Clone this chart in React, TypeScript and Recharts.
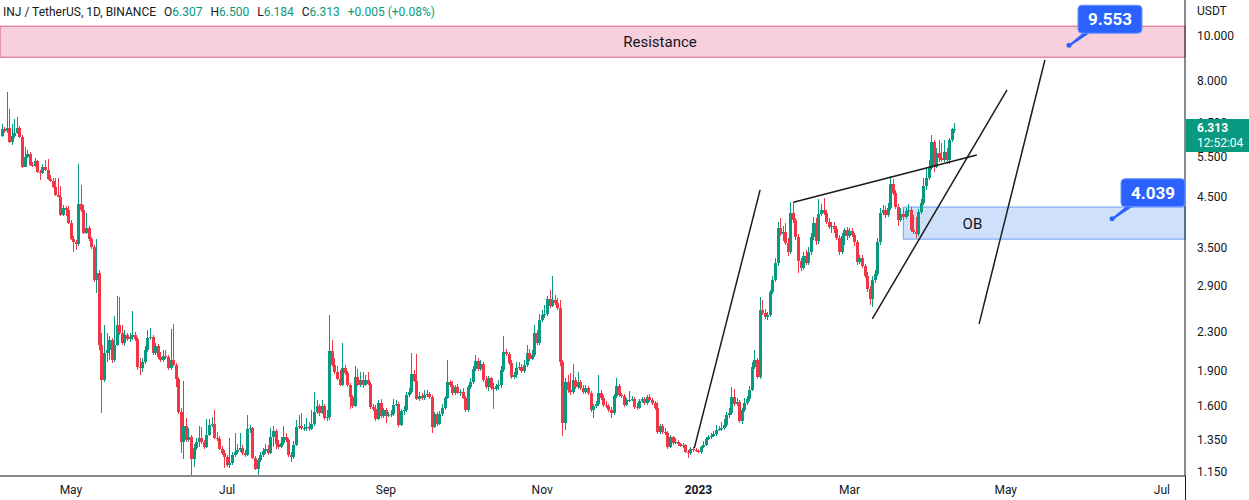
import {
  Bar,
  ComposedChart,
  ReferenceArea,
  ReferenceDot,
  ReferenceLine,
  XAxis,
  YAxis,
} from "recharts";

// Daily INJ/USDT candles, 2022-04-04 .. 2023-04-11. Day numbers count from 2023-01-01.
const FIRST_DAY = -272;
const FIRST_OPEN = 6.09;

// prettier-ignore
const CLOSE = [
  6.30, 6.24, 6.34, 5.91, 6.09, 6.18, 6.34, 6.06, 5.22, 5.49,
  5.57, 5.27, 5.25, 5.38, 5.09, 5.07, 5.22, 5.15, 4.92, 4.87,
  4.73, 4.54, 4.50, 4.12, 4.26, 4.22, 3.96, 3.65, 3.60, 3.56,
  4.35, 4.22, 3.76, 3.86, 3.65, 3.51, 2.98, 3.09, 2.16, 1.815,
  2.075, 2.107, 2.214, 2.005, 2.159, 2.385, 2.292, 2.181, 2.269, 2.225,
  2.247, 2.269, 2.225, 1.937, 1.927, 1.985, 2.107, 2.236, 2.247, 2.075,
  2.148, 2.035, 2.005, 2.045, 2.035, 1.927, 2.005, 1.956, 1.824, 1.549,
  1.335, 1.445, 1.348, 1.368, 1.227, 1.296, 1.335, 1.361, 1.335, 1.302,
  1.382, 1.452, 1.459, 1.361, 1.355, 1.289, 1.264, 1.240, 1.191, 1.203,
  1.252, 1.270, 1.283, 1.296, 1.264, 1.252, 1.424, 1.431, 1.233, 1.168,
  1.221, 1.252, 1.277, 1.289, 1.264, 1.368, 1.410, 1.322, 1.302, 1.328,
  1.368, 1.348, 1.252, 1.240, 1.315, 1.438, 1.445, 1.431, 1.431, 1.438,
  1.424, 1.459, 1.549, 1.596, 1.541, 1.596, 1.504, 1.511, 2.096, 1.956,
  1.889, 1.824, 1.771, 1.927, 1.880, 1.771, 1.668, 1.596, 1.843, 1.771,
  1.815, 1.771, 1.815, 1.780, 1.588, 1.572, 1.496, 1.620, 1.518, 1.564,
  1.518, 1.526, 1.534, 1.604, 1.612, 1.452, 1.556, 1.564, 1.685, 1.711,
  1.870, 1.806, 1.652, 1.677, 1.660, 1.685, 1.694, 1.668, 1.438, 1.534,
  1.459, 1.534, 1.580, 1.660, 1.797, 1.771, 1.702, 1.753, 1.702, 1.711,
  1.660, 1.564, 1.753, 1.797, 1.917, 1.995, 1.917, 1.966, 1.815, 1.753,
  1.833, 1.745, 1.736, 1.762, 1.771, 1.908, 2.086, 2.065, 1.976, 1.843,
  1.861, 1.927, 1.937, 1.899, 1.956, 2.075, 2.015, 2.055, 2.292, 2.181,
  2.445, 2.506, 2.518, 2.713, 2.620, 2.700, 2.660, 2.595, 1.985, 1.467,
  1.797, 1.728, 1.711, 1.815, 1.753, 1.797, 1.745, 1.711, 1.745, 1.702,
  1.564, 1.596, 1.612, 1.702, 1.660, 1.604, 1.596, 1.564, 1.541, 1.677,
  1.762, 1.685, 1.677, 1.604, 1.644, 1.644, 1.652, 1.588, 1.580, 1.636,
  1.652, 1.620, 1.668, 1.644, 1.620, 1.580, 1.403, 1.445, 1.403, 1.396,
  1.302, 1.368, 1.328, 1.335, 1.322, 1.309, 1.315, 1.270, 1.264, 1.289,
  1.283, 1.277, 1.270, 1.302, 1.315, 1.355, 1.368, 1.375, 1.389, 1.417,
  1.424, 1.431, 1.452, 1.526, 1.541, 1.668, 1.612, 1.628, 1.482, 1.564,
  1.620, 1.652, 1.728, 1.937, 2.005, 1.843, 2.569, 2.531, 2.481, 2.506,
  2.809, 2.981, 3.243, 3.858, 3.745, 3.782, 3.582, 3.425, 4.156, 4.015,
  3.690, 3.276, 3.164, 3.358, 3.243, 3.425, 3.690, 3.955, 3.617, 4.136,
  4.219, 4.156, 3.975, 3.877, 3.896, 3.839, 3.672, 3.425, 3.709, 3.820,
  3.709, 3.801, 3.727, 3.599, 3.259, 3.325, 3.195, 3.041, 2.851, 2.713,
  2.981, 3.071, 3.599, 4.156, 4.219, 4.115, 4.261, 4.800, 4.589, 4.282,
  4.015, 4.136, 4.074, 4.198, 4.219, 3.820, 3.782, 3.745, 4.177, 4.368,
  4.752, 4.944, 5.196, 5.911, 5.222, 5.598, 5.460, 5.406, 5.625, 5.406,
  5.970, 6.307, 6.313,
];

// prettier-ignore
const HIGH = [
  6.463, 6.367, 7.574, 6.962, 6.463, 6.625, 6.691, 6.399, 6.120, 5.767,
  5.681, 5.625, 5.353, 5.460, 5.406, 5.145, 5.300, 5.406, 5.433, 5.019,
  4.944, 4.944, 4.944, 4.752, 4.325, 4.303, 4.303, 4.015, 3.709, 3.635,
  5.300, 4.776, 4.325, 4.156, 3.896, 3.690, 3.546, 3.653, 3.133, 2.292,
  2.385, 2.292, 2.258, 2.236, 2.494, 2.754, 2.740, 2.385, 2.326, 2.292,
  2.292, 2.556, 2.303, 2.247, 2.025, 2.025, 2.148, 2.326, 2.349, 2.269,
  2.181, 2.170, 2.086, 2.107, 2.107, 2.055, 2.338, 2.397, 1.976, 1.843,
  1.580, 1.806, 1.504, 1.431, 1.382, 1.322, 1.361, 1.445, 1.438, 1.348,
  1.496, 1.496, 1.511, 1.564, 1.403, 1.375, 1.309, 1.283, 1.252, 1.361,
  1.270, 1.396, 1.322, 1.396, 1.315, 1.283, 1.526, 1.452, 1.438, 1.246,
  1.233, 1.270, 1.296, 1.322, 1.315, 1.431, 1.445, 1.424, 1.348, 1.368,
  1.445, 1.396, 1.361, 1.270, 1.341, 1.489, 1.526, 1.541, 1.459, 1.504,
  1.474, 1.564, 1.711, 1.644, 1.612, 1.644, 1.612, 1.564, 2.506, 2.214,
  2.025, 1.946, 1.908, 2.181, 1.956, 1.899, 1.789, 1.685, 1.946, 1.917,
  1.889, 1.889, 1.861, 1.889, 1.797, 1.612, 1.604, 1.644, 1.652, 1.580,
  1.580, 1.549, 1.564, 1.652, 1.644, 1.628, 1.572, 1.596, 1.711, 1.745,
  2.075, 1.908, 2.065, 1.711, 1.702, 1.728, 1.728, 1.711, 1.685, 1.549,
  1.549, 1.556, 1.612, 1.677, 2.005, 1.815, 1.806, 1.771, 1.780, 1.736,
  1.745, 1.677, 1.771, 1.833, 1.946, 2.055, 2.025, 2.005, 1.985, 1.852,
  1.852, 1.843, 1.789, 1.780, 1.815, 1.946, 2.258, 2.117, 2.086, 2.005,
  1.889, 1.985, 1.985, 1.966, 2.005, 2.159, 2.117, 2.107, 2.385, 2.326,
  2.518, 2.569, 2.633, 2.754, 2.837, 3.041, 2.767, 2.727, 2.700, 2.005,
  1.833, 1.861, 1.880, 1.966, 1.843, 1.889, 1.815, 1.771, 1.771, 1.762,
  1.719, 1.612, 1.636, 1.861, 1.728, 1.685, 1.636, 1.612, 1.588, 1.694,
  1.833, 1.780, 1.702, 1.694, 1.660, 1.719, 1.677, 1.668, 1.620, 1.652,
  1.668, 1.668, 1.685, 1.694, 1.660, 1.636, 1.628, 1.459, 1.459, 1.431,
  1.410, 1.382, 1.375, 1.361, 1.348, 1.328, 1.328, 1.322, 1.283, 1.302,
  1.302, 1.296, 1.289, 1.309, 1.341, 1.368, 1.382, 1.396, 1.410, 1.452,
  1.445, 1.474, 1.496, 1.549, 1.580, 1.753, 1.736, 1.660, 1.644, 1.580,
  1.660, 1.677, 1.762, 1.985, 2.107, 2.025, 2.740, 2.700, 2.582, 2.544,
  2.837, 3.041, 3.325, 3.975, 4.055, 3.896, 3.955, 3.672, 4.389, 4.389,
  4.055, 3.745, 3.325, 3.425, 3.459, 3.511, 3.764, 4.074, 4.055, 4.455,
  4.346, 4.477, 4.219, 4.055, 3.975, 3.975, 3.896, 3.727, 3.764, 3.858,
  3.877, 3.858, 3.858, 3.764, 3.635, 3.375, 3.375, 3.227, 3.102, 2.894,
  3.041, 3.133, 3.672, 4.261, 4.325, 4.303, 4.368, 4.994, 4.919, 4.659,
  4.346, 4.261, 4.240, 4.261, 4.346, 4.282, 4.115, 4.074, 4.240, 4.455,
  4.944, 5.196, 5.406, 6.120, 5.970, 5.739, 5.970, 5.882, 5.970, 5.739,
  6.030, 6.335, 6.500,
];

// prettier-ignore
const LOW = [
  6.060, 6.181, 6.181, 5.882, 5.824, 6.030, 6.150, 6.030, 5.196, 5.222,
  5.460, 5.248, 5.222, 5.222, 5.069, 4.895, 5.044, 5.119, 4.895, 4.847,
  4.705, 4.521, 4.499, 4.094, 4.094, 4.094, 3.936, 3.635, 3.425, 3.459,
  3.528, 4.177, 3.745, 3.745, 3.617, 3.476, 2.951, 2.795, 2.107, 1.541,
  1.797, 1.985, 2.005, 1.976, 1.985, 2.148, 2.269, 2.159, 2.148, 2.203,
  2.192, 2.214, 2.203, 1.908, 1.861, 1.889, 1.966, 2.086, 2.214, 2.055,
  2.055, 2.015, 1.985, 1.985, 2.015, 1.908, 1.908, 1.946, 1.753, 1.534,
  1.264, 1.227, 1.335, 1.335, 1.133, 1.179, 1.283, 1.302, 1.322, 1.289,
  1.296, 1.375, 1.438, 1.355, 1.341, 1.283, 1.252, 1.174, 1.179, 1.174,
  1.191, 1.240, 1.258, 1.270, 1.252, 1.240, 1.246, 1.396, 1.227, 1.162,
  1.133, 1.209, 1.240, 1.258, 1.252, 1.258, 1.302, 1.289, 1.289, 1.296,
  1.315, 1.335, 1.240, 1.209, 1.227, 1.309, 1.424, 1.417, 1.410, 1.410,
  1.410, 1.417, 1.445, 1.534, 1.518, 1.534, 1.489, 1.482, 1.489, 1.937,
  1.870, 1.815, 1.762, 1.762, 1.861, 1.753, 1.572, 1.580, 1.588, 1.762,
  1.753, 1.745, 1.762, 1.771, 1.572, 1.556, 1.482, 1.489, 1.504, 1.504,
  1.467, 1.511, 1.511, 1.518, 1.596, 1.438, 1.445, 1.526, 1.549, 1.668,
  1.694, 1.797, 1.644, 1.636, 1.644, 1.644, 1.668, 1.652, 1.396, 1.431,
  1.445, 1.452, 1.518, 1.564, 1.652, 1.753, 1.685, 1.685, 1.694, 1.677,
  1.652, 1.549, 1.549, 1.736, 1.780, 1.899, 1.899, 1.899, 1.797, 1.736,
  1.719, 1.728, 1.572, 1.719, 1.728, 1.745, 1.889, 2.045, 1.956, 1.824,
  1.824, 1.833, 1.908, 1.880, 1.880, 1.937, 1.995, 2.005, 2.035, 2.159,
  2.159, 2.420, 2.469, 2.494, 2.595, 2.607, 2.633, 2.569, 1.946, 1.375,
  1.417, 1.702, 1.685, 1.694, 1.736, 1.736, 1.728, 1.694, 1.694, 1.685,
  1.549, 1.504, 1.580, 1.596, 1.644, 1.588, 1.580, 1.549, 1.504, 1.526,
  1.660, 1.668, 1.660, 1.588, 1.596, 1.628, 1.636, 1.572, 1.564, 1.572,
  1.620, 1.604, 1.604, 1.628, 1.604, 1.564, 1.389, 1.389, 1.389, 1.382,
  1.289, 1.296, 1.315, 1.322, 1.309, 1.302, 1.296, 1.264, 1.233, 1.252,
  1.270, 1.270, 1.264, 1.258, 1.296, 1.309, 1.348, 1.355, 1.368, 1.375,
  1.410, 1.410, 1.417, 1.438, 1.504, 1.526, 1.596, 1.596, 1.467, 1.459,
  1.549, 1.604, 1.636, 1.719, 1.917, 1.824, 1.824, 2.506, 2.457, 2.445,
  2.481, 2.781, 2.951, 3.195, 3.709, 3.617, 3.546, 3.358, 3.392, 3.955,
  3.635, 3.086, 3.117, 3.133, 3.211, 3.211, 3.375, 3.635, 3.546, 3.564,
  4.094, 4.115, 3.936, 3.839, 3.764, 3.764, 3.635, 3.375, 3.392, 3.546,
  3.635, 3.672, 3.690, 3.528, 3.211, 3.227, 3.164, 3.010, 2.809, 2.633,
  2.607, 2.937, 3.041, 3.546, 4.115, 4.055, 4.074, 4.219, 4.544, 4.240,
  3.896, 3.975, 4.015, 4.035, 4.094, 3.782, 3.745, 3.672, 3.709, 4.136,
  4.325, 4.659, 4.895, 5.145, 5.094, 5.196, 5.353, 5.353, 5.353, 5.300,
  5.300, 5.911, 6.184,
];

const PRICE_TICKS = [1.15, 1.35, 1.6, 1.9, 2.3, 2.9, 3.5, 4.5, 5.5, 6.5, 8, 10];
const TIME_TICKS = [-245, -184, -122, -61, 0, 59, 120, 181];
const TIME_LABELS = ["May", "Jul", "Sep", "Nov", "2023", "Mar", "May", "Jul"];

// Drawings on the chart
const RESISTANCE = { low: 9.0, high: 10.5, labelDay: -15, labelPrice: 9.71 };
const ORDER_BLOCK = { fromDay: 80, low: 3.65, high: 4.28, labelDay: 107, labelPrice: 3.94 };
const TREND_LINES = [
  [{ x: -1.6, y: 1.294 }, { x: 24.1, y: 4.659 }],
  [{ x: 37.1, y: 4.383 }, { x: 108.7, y: 5.542 }],
  [{ x: 67.9, y: 2.457 }, { x: 120.5, y: 7.65 }],
  [{ x: 109.6, y: 2.397 }, { x: 135.3, y: 8.878 }],
];
const CALLOUTS = [
  { day: 144.7, price: 9.553, text: "9.553" },
  { day: 161.5, price: 4.039, text: "4.039" },
];
const LAST = { open: 6.307, high: 6.5, low: 6.184, close: 6.313, change: "+0.005 (+0.08%)", timer: "12:52:04" };

const UP = "#089981";
const DOWN = "#f23645";
const INK = "#131722";
const FONT = "Roboto, 'Noto Sans', sans-serif";

const candles = CLOSE.map((close, i) => {
  const open = i === 0 ? FIRST_OPEN : CLOSE[i - 1];
  const high = Math.max(HIGH[i], open, close);
  const low = Math.min(LOW[i], open, close);
  return { day: FIRST_DAY + i, open, close, high, low, range: [low, high] };
});

// Range bar spans low..high; body is placed inside it on the same log scale.
function Candle(props: any) {
  const { x, y, width, height, payload } = props;
  if (!payload || !Number.isFinite(y)) return null;
  const top = Math.min(y, y + height);
  const bottom = Math.max(y, y + height);
  const lh = Math.log(payload.high);
  const span = lh - Math.log(payload.low) || 1;
  const at = (p: number) => top + ((lh - Math.log(p)) / span) * (bottom - top);
  const color = payload.close >= payload.open ? UP : DOWN;
  const cx = Math.round(x + width / 2);
  const bodyTop = Math.round(at(Math.max(payload.open, payload.close)));
  const bodyBottom = Math.round(at(Math.min(payload.open, payload.close)));
  return (
    <g shapeRendering="crispEdges">
      <rect x={cx} y={Math.round(top)} width={1} height={Math.max(1, Math.round(bottom) - Math.round(top))} fill={color} />
      <rect x={cx - 1} y={bodyTop} width={3} height={Math.max(1, bodyBottom - bodyTop)} fill={color} />
    </g>
  );
}

function TimeTick({ x, y, payload }: any) {
  const label = TIME_LABELS[TIME_TICKS.indexOf(payload.value)] ?? "";
  return (
    <text x={x} y={y + 10} textAnchor="middle" fontSize={12} fill={INK} fontFamily={FONT} fontWeight={label === "2023" ? 700 : 400}>
      {label}
    </text>
  );
}

function Callout({ cx, cy, text }: { cx: number; cy: number; text: string }) {
  return (
    <g>
      <polygon points={`${cx - 1},${cy} ${cx + 15},${cy - 13} ${cx + 22},${cy - 13} ${cx + 1},${cy + 1}`} fill="#2962ff" />
      <circle cx={cx} cy={cy} r={2.5} fill="#2962ff" />
      <rect x={cx + 9} y={cy - 40} width={64} height={28} rx={4} fill="#2962ff" stroke="#6e94ff" />
      <text x={cx + 41} y={cy - 26} textAnchor="middle" dominantBaseline="central" fill="#ffffff" fontSize={17} fontWeight={700} fontFamily={FONT}>
        {text}
      </text>
    </g>
  );
}

function Value({ label, value }: { label: string; value: string }) {
  return (
    <span style={{ marginLeft: 8 }}>
      {label}
      <span style={{ color: UP }}>{value}</span>
    </span>
  );
}

export default function App() {
  return (
    <div style={{ position: "absolute", left: 0, top: 0, width: 1249, height: 500, overflow: "hidden", background: "#ffffff", fontFamily: FONT }}>
      <ComposedChart width={1249} height={500} data={candles} margin={{ top: 0, right: 0, bottom: 0, left: 0 }}>
        <XAxis
          dataKey="day"
          type="number"
          domain={[-272.7, 190]}
          allowDataOverflow
          ticks={TIME_TICKS}
          tick={<TimeTick />}
          tickLine={false}
          height={24}
          stroke={INK}
        />
        <YAxis
          orientation="right"
          scale="log"
          type="number"
          domain={[1.127, 11.955]}
          allowDataOverflow
          ticks={PRICE_TICKS}
          tickFormatter={(v: number) => v.toFixed(3)}
          tickLine={false}
          tickSize={6}
          tickMargin={6}
          width={64}
          stroke={INK}
          tick={{ fontSize: 12, fill: INK, fontFamily: FONT, textAnchor: "start" }}
        />
        <ReferenceArea y1={RESISTANCE.low} y2={RESISTANCE.high} fill="#f8cfdd" fillOpacity={1} stroke="#dc5c86" strokeWidth={1} />
        <ReferenceArea x1={ORDER_BLOCK.fromDay} y1={ORDER_BLOCK.low} y2={ORDER_BLOCK.high} fill="#cfe0fb" fillOpacity={1} stroke="#6b9ff5" strokeWidth={1} />
        <Bar dataKey="range" barSize={2} shape={<Candle />} isAnimationActive={false} />
        {TREND_LINES.map((segment, i) => (
          <ReferenceLine key={i} segment={segment} stroke="#1b1b1b" strokeWidth={1.5} />
        ))}
        <ReferenceDot
          x={RESISTANCE.labelDay}
          y={RESISTANCE.labelPrice}
          r={1}
          shape={(p: any) => (
            <text x={p.cx} y={p.cy} textAnchor="middle" dominantBaseline="central" fontSize={15} fill={INK} fontFamily={FONT}>
              Resistance
            </text>
          )}
        />
        <ReferenceDot
          x={ORDER_BLOCK.labelDay}
          y={ORDER_BLOCK.labelPrice}
          r={1}
          shape={(p: any) => (
            <text x={p.cx} y={p.cy} textAnchor="middle" dominantBaseline="central" fontSize={15} fill={INK} fontFamily={FONT}>
              OB
            </text>
          )}
        />
        {CALLOUTS.map((c) => (
          <ReferenceDot key={c.text} x={c.day} y={c.price} r={3} shape={(p: any) => <Callout cx={p.cx} cy={p.cy} text={c.text} />} />
        ))}
      </ComposedChart>

      {/* last-price tag sits over the price scale, covering the 6.500 label */}
      <div style={{ position: "absolute", left: 1186, top: 119, width: 63, height: 33, background: UP, color: "#ffffff", fontSize: 12, lineHeight: "15px", paddingLeft: 11, paddingTop: 2, boxSizing: "border-box" }}>
        <div style={{ fontWeight: 700 }}>{LAST.close.toFixed(3)}</div>
        <div>{LAST.timer}</div>
      </div>
      <div style={{ position: "absolute", left: 1185, top: 476, width: 1, height: 24, background: INK }} />
      <div style={{ position: "absolute", left: 1197, top: 4, fontSize: 12, color: INK }}>USDT</div>
      <div style={{ position: "absolute", left: 3, top: 4, fontSize: 12, lineHeight: "16px", color: INK, whiteSpace: "pre" }}>
        INJ / TetherUS, 1D, BINANCE
        <Value label="O" value={LAST.open.toFixed(3)} />
        <Value label="H" value={LAST.high.toFixed(3)} />
        <Value label="L" value={LAST.low.toFixed(3)} />
        <Value label="C" value={LAST.close.toFixed(3)} />
        <span style={{ marginLeft: 8, color: UP }}>{LAST.change}</span>
      </div>
    </div>
  );
}
